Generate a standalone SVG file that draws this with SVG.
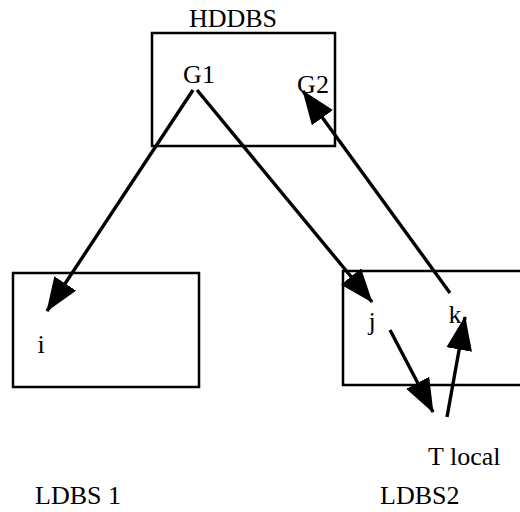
<svg xmlns="http://www.w3.org/2000/svg" width="520" height="512" viewBox="0 0 520 512">
<style>
.box{fill:none;stroke:#000;stroke-width:2.5}
.lbl{font-family:"Liberation Serif","DejaVu Serif",serif;fill:#000;font-size:26px}
.con{stroke:#000;stroke-width:3.4;fill:none}
</style>
<defs>
<marker id="ah" markerUnits="userSpaceOnUse" markerWidth="36" markerHeight="28" refX="33" refY="13" orient="auto">
<path d="M0,0 L34,13 L0,26 Z" fill="#000"/>
</marker>
</defs>
<rect width="520" height="512" fill="#fff"/>
<g id="hddbs">
<rect class="box" x="152" y="33" width="183" height="113"/>
<text class="lbl" x="233" y="27" text-anchor="middle">HDDBS</text>
<text class="lbl" x="199" y="83" text-anchor="middle">G1</text>
<text class="lbl" x="313" y="93" text-anchor="middle">G2</text>
</g>
<g id="ldbs1">
<rect class="box" x="13" y="273" width="186" height="114"/>
<text class="lbl" x="41" y="353" text-anchor="middle">i</text>
<text class="lbl" x="35" y="504">LDBS 1</text>
</g>
<g id="ldbs2">
<path class="box" d="M522,271 L343,271 L343,385 L522,385"/>
<text class="lbl" x="372" y="330" text-anchor="middle">j</text>
<text class="lbl" x="455" y="323" text-anchor="middle">k</text>
<text class="lbl" x="380" y="504">LDBS2</text>
</g>
<g id="tlocal">
<text class="lbl" x="428" y="465">T local</text>
</g>
<g id="connectors">
<line class="con" x1="193" y1="90" x2="47" y2="311" marker-end="url(#ah)"/>
<line class="con" x1="197" y1="90" x2="372" y2="302" marker-end="url(#ah)"/>
<line class="con" x1="450" y1="293" x2="303" y2="91" marker-end="url(#ah)"/>
<line class="con" x1="390" y1="330" x2="433" y2="412" marker-end="url(#ah)"/>
<line class="con" x1="447" y1="417" x2="465" y2="317" marker-end="url(#ah)"/>
</g>
</svg>
